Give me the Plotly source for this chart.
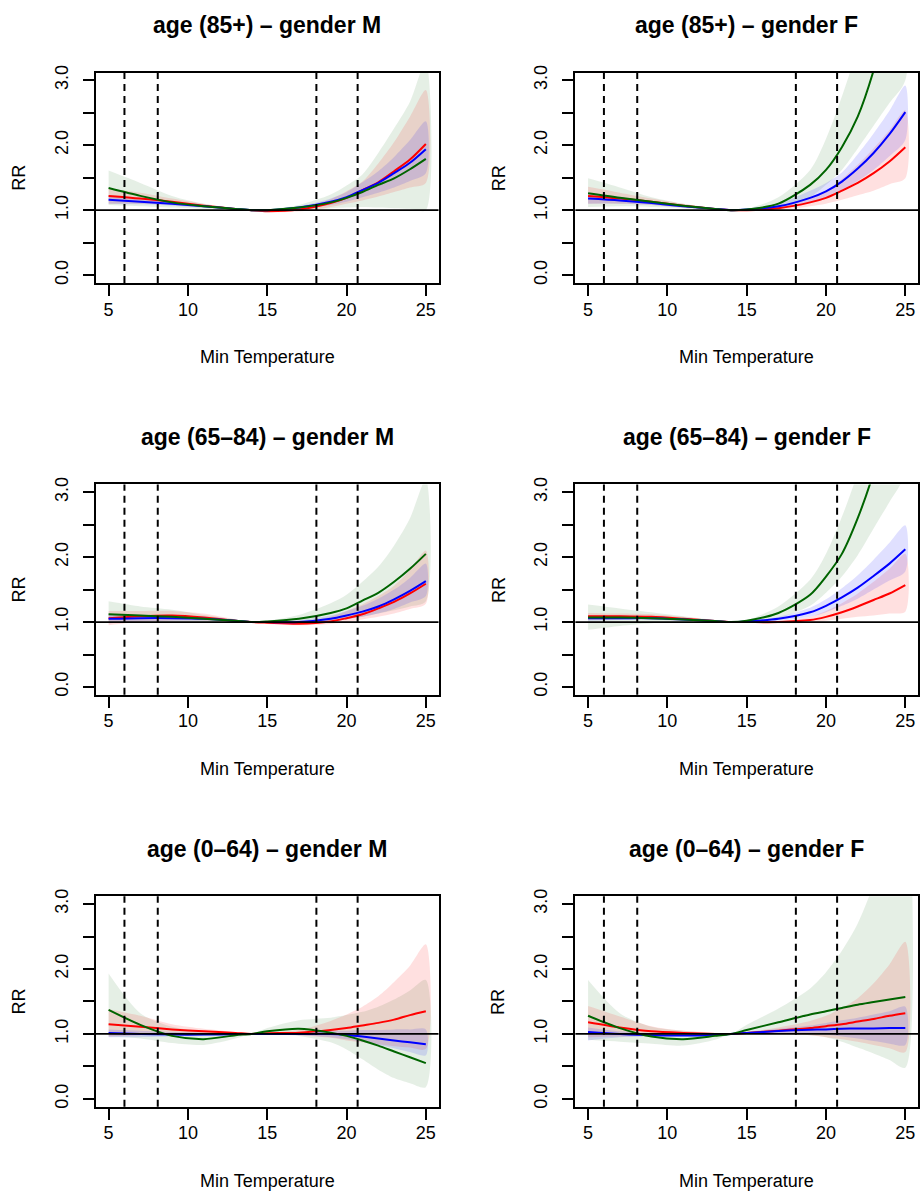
import plotly.graph_objects as go

# ---------------- data ----------------
temps = [5, 7, 9, 11, 13, 14, 15, 17, 19, 20, 21, 22, 23, 24, 25]
cut_points = [6.0, 8.1, 18.1, 20.7]
y_ticks = [0, 0.5, 1, 1.5, 2, 2.5, 3]
y_tick_text = ["0.0", "", "1.0", "", "2.0", "", "3.0"]
x_ticks = [5, 10, 15, 20, 25]

titles = ["age (85+) \u2013 gender M", "age (85+) \u2013 gender F",
          "age (65\u201384) \u2013 gender M", "age (65\u201384) \u2013 gender F",
          "age (0\u201364) \u2013 gender M", "age (0\u201364) \u2013 gender F"]

# panel 1: age 85+, M
p1_green = [1.34, 1.22, 1.12, 1.06, 1.02, 1.0, 1.00, 1.04, 1.12, 1.19, 1.28, 1.39, 1.49, 1.63, 1.79]
p1_green_lo = [1.08, 1.06, 1.04, 1.02, 1.00, 1.0, 0.99, 1.00, 1.03, 1.04, 1.05, 1.04, 1.03, 1.02, 1.00]
p1_green_hi = [1.61, 1.42, 1.22, 1.10, 1.03, 1.0, 1.01, 1.08, 1.24, 1.38, 1.55, 1.88, 2.26, 2.67, 3.3]
p1_red = [1.22, 1.18, 1.13, 1.07, 1.02, 1.0, 0.985, 1.01, 1.11, 1.19, 1.31, 1.43, 1.60, 1.78, 2.02]
p1_red_lo = [1.10, 1.10, 1.08, 1.04, 1.01, 1.0, 0.97, 0.98, 1.05, 1.10, 1.15, 1.21, 1.28, 1.35, 1.42]
p1_red_hi = [1.33, 1.27, 1.18, 1.10, 1.03, 1.0, 1.00, 1.04, 1.17, 1.29, 1.44, 1.72, 2.05, 2.44, 2.85]
p1_blue = [1.16, 1.13, 1.10, 1.06, 1.02, 1.0, 1.00, 1.04, 1.13, 1.20, 1.31, 1.42, 1.57, 1.73, 1.94]
p1_blue_lo = [1.10, 1.09, 1.07, 1.04, 1.01, 1.0, 1.00, 1.02, 1.08, 1.13, 1.20, 1.27, 1.35, 1.45, 1.57]
p1_blue_hi = [1.23, 1.18, 1.13, 1.08, 1.03, 1.0, 1.00, 1.06, 1.18, 1.28, 1.43, 1.60, 1.82, 2.08, 2.37]

# panel 2: age 85+, F
p2_green = [1.26, 1.19, 1.13, 1.07, 1.02, 1.0, 1.01, 1.10, 1.39, 1.62, 1.97, 2.44, 3.15, 4.1, 5.3]
p2_green_lo = [1.05, 1.06, 1.05, 1.03, 1.00, 1.0, 0.99, 1.02, 1.20, 1.39, 1.62, 1.95, 2.30, 2.65, 3.00]
p2_green_hi = [1.49, 1.35, 1.20, 1.10, 1.03, 1.0, 1.02, 1.20, 1.62, 2.10, 2.75, 3.5, 4.4, 5.5, 6.8]
p2_red = [1.22, 1.18, 1.13, 1.07, 1.02, 1.0, 1.00, 1.03, 1.12, 1.19, 1.30, 1.42, 1.57, 1.75, 1.97]
p2_red_lo = [1.10, 1.10, 1.08, 1.04, 1.01, 1.0, 0.99, 1.00, 1.06, 1.10, 1.16, 1.23, 1.30, 1.40, 1.49]
p2_red_hi = [1.36, 1.27, 1.18, 1.10, 1.03, 1.0, 1.01, 1.06, 1.20, 1.30, 1.48, 1.70, 1.95, 2.23, 2.54]
p2_blue = [1.18, 1.15, 1.11, 1.06, 1.02, 1.0, 1.01, 1.06, 1.19, 1.29, 1.44, 1.64, 1.88, 2.17, 2.51]
p2_blue_lo = [1.10, 1.10, 1.08, 1.04, 1.01, 1.0, 1.00, 1.03, 1.12, 1.20, 1.30, 1.45, 1.62, 1.83, 2.08]
p2_blue_hi = [1.26, 1.20, 1.14, 1.08, 1.03, 1.0, 1.01, 1.10, 1.30, 1.42, 1.58, 1.86, 2.18, 2.53, 2.92]

# panel 3: age 65-84, M
p3_green = [1.12, 1.10, 1.08, 1.05, 1.02, 1.0, 1.01, 1.05, 1.14, 1.21, 1.33, 1.45, 1.62, 1.82, 2.05]
p3_green_lo = [0.98, 1.00, 1.00, 1.00, 1.00, 1.0, 1.00, 1.00, 1.02, 1.05, 1.08, 1.13, 1.18, 1.24, 1.32]
p3_green_hi = [1.32, 1.24, 1.19, 1.11, 1.04, 1.0, 1.02, 1.11, 1.29, 1.42, 1.62, 1.85, 2.18, 2.60, 3.2]
p3_red = [1.06, 1.09, 1.10, 1.07, 1.02, 1.0, 0.99, 0.975, 1.01, 1.06, 1.12, 1.21, 1.31, 1.44, 1.59]
p3_red_lo = [0.95, 1.00, 1.02, 1.02, 1.00, 1.0, 0.97, 0.95, 0.97, 1.00, 1.04, 1.08, 1.13, 1.20, 1.28]
p3_red_hi = [1.17, 1.17, 1.17, 1.13, 1.04, 1.0, 1.01, 1.00, 1.08, 1.17, 1.27, 1.40, 1.56, 1.80, 2.10]
p3_blue = [1.05, 1.06, 1.06, 1.05, 1.02, 1.0, 1.00, 1.00, 1.05, 1.10, 1.16, 1.24, 1.35, 1.48, 1.63]
p3_blue_lo = [0.98, 1.01, 1.02, 1.02, 1.01, 1.0, 0.99, 0.98, 1.00, 1.04, 1.08, 1.13, 1.20, 1.30, 1.40]
p3_blue_hi = [1.12, 1.11, 1.10, 1.08, 1.03, 1.0, 1.01, 1.03, 1.10, 1.17, 1.25, 1.36, 1.50, 1.68, 1.90]

# panel 4: age 65-84, F
p4_green = [1.07, 1.07, 1.06, 1.04, 1.015, 1.0, 1.02, 1.14, 1.42, 1.70, 2.05, 2.60, 3.30, 4.2, 5.3]
p4_green_lo = [0.88, 0.94, 0.98, 1.00, 1.00, 1.0, 1.01, 1.06, 1.25, 1.45, 1.70, 2.03, 2.44, 2.85, 3.3]
p4_green_hi = [1.27, 1.21, 1.15, 1.09, 1.03, 1.0, 1.03, 1.24, 1.65, 2.05, 2.62, 3.3, 4.2, 5.2, 6.4]
p4_red = [1.09, 1.09, 1.08, 1.05, 1.015, 1.0, 1.00, 1.00, 1.03, 1.08, 1.15, 1.24, 1.34, 1.44, 1.57]
p4_red_lo = [1.03, 1.04, 1.04, 1.02, 1.00, 1.0, 0.99, 0.98, 0.99, 1.02, 1.05, 1.08, 1.10, 1.13, 1.16]
p4_red_hi = [1.14, 1.13, 1.12, 1.08, 1.02, 1.0, 1.00, 1.01, 1.08, 1.17, 1.29, 1.44, 1.62, 1.82, 2.05]
p4_blue = [1.06, 1.06, 1.06, 1.04, 1.015, 1.0, 1.01, 1.05, 1.15, 1.25, 1.38, 1.53, 1.71, 1.90, 2.12]
p4_blue_lo = [1.02, 1.03, 1.03, 1.02, 1.01, 1.0, 1.00, 1.02, 1.08, 1.15, 1.25, 1.36, 1.50, 1.64, 1.78]
p4_blue_hi = [1.10, 1.10, 1.09, 1.06, 1.02, 1.0, 1.01, 1.08, 1.22, 1.35, 1.52, 1.72, 1.96, 2.22, 2.49]

# panel 5: age 0-64, M
p5_green = [1.37, 1.14, 0.97, 0.92, 0.98, 1.0, 1.04, 1.08, 1.02, 0.97, 0.90, 0.82, 0.73, 0.64, 0.55]
p5_green_lo = [0.96, 0.93, 0.86, 0.83, 0.93, 1.0, 1.00, 0.97, 0.87, 0.76, 0.61, 0.45, 0.32, 0.24, 0.18]
p5_green_hi = [1.93, 1.32, 1.11, 1.04, 1.01, 1.0, 1.09, 1.21, 1.25, 1.29, 1.34, 1.42, 1.53, 1.67, 1.83]
p5_red = [1.15, 1.11, 1.07, 1.04, 1.015, 1.0, 1.01, 1.02, 1.06, 1.09, 1.13, 1.17, 1.22, 1.29, 1.35]
p5_red_lo = [0.96, 0.98, 0.99, 1.00, 1.00, 1.0, 1.00, 0.98, 0.94, 0.90, 0.87, 0.84, 0.81, 0.79, 0.77]
p5_red_hi = [1.38, 1.28, 1.15, 1.08, 1.03, 1.0, 1.02, 1.06, 1.20, 1.30, 1.42, 1.58, 1.80, 2.05, 2.38]
p5_blue = [1.015, 1.00, 0.99, 0.99, 0.995, 1.0, 1.00, 1.00, 1.00, 0.985, 0.96, 0.93, 0.90, 0.87, 0.84]
p5_blue_lo = [0.95, 0.95, 0.96, 0.97, 0.99, 1.0, 0.99, 0.98, 0.95, 0.92, 0.88, 0.83, 0.78, 0.72, 0.67]
p5_blue_hi = [1.07, 1.05, 1.03, 1.02, 1.01, 1.0, 1.01, 1.02, 1.05, 1.05, 1.06, 1.06, 1.07, 1.07, 1.07]

# panel 6: age 0-64, F
p6_green = [1.28, 1.09, 0.96, 0.92, 0.97, 1.0, 1.06, 1.18, 1.30, 1.35, 1.40, 1.45, 1.49, 1.53, 1.57]
p6_green_lo = [0.91, 0.88, 0.85, 0.82, 0.91, 1.0, 1.00, 1.00, 0.98, 0.95, 0.88, 0.79, 0.70, 0.60, 0.48]
p6_green_hi = [1.83, 1.32, 1.11, 1.05, 1.01, 1.0, 1.14, 1.39, 1.70, 1.95, 2.28, 2.70, 3.3, 4.0, 5.0]
p6_red = [1.18, 1.10, 1.04, 1.015, 1.00, 1.0, 1.015, 1.05, 1.09, 1.12, 1.15, 1.19, 1.23, 1.28, 1.32]
p6_red_lo = [0.95, 0.96, 0.97, 0.98, 0.99, 1.0, 1.00, 1.00, 0.98, 0.95, 0.92, 0.88, 0.83, 0.78, 0.72]
p6_red_hi = [1.43, 1.27, 1.12, 1.05, 1.02, 1.0, 1.03, 1.10, 1.20, 1.28, 1.40, 1.55, 1.78, 2.07, 2.42]
p6_blue = [1.03, 1.00, 0.98, 0.975, 0.985, 1.0, 1.015, 1.045, 1.065, 1.07, 1.08, 1.085, 1.085, 1.09, 1.09]
p6_blue_lo = [0.90, 0.95, 0.96, 0.96, 0.97, 1.0, 1.00, 1.01, 1.01, 0.99, 0.96, 0.93, 0.89, 0.85, 0.83]
p6_blue_hi = [1.10, 1.04, 1.01, 1.00, 1.00, 1.0, 1.03, 1.08, 1.13, 1.17, 1.21, 1.25, 1.30, 1.35, 1.42]

panels = [
    dict(green=(p1_green, p1_green_lo, p1_green_hi), red=(p1_red, p1_red_lo, p1_red_hi), blue=(p1_blue, p1_blue_lo, p1_blue_hi)),
    dict(green=(p2_green, p2_green_lo, p2_green_hi), red=(p2_red, p2_red_lo, p2_red_hi), blue=(p2_blue, p2_blue_lo, p2_blue_hi)),
    dict(green=(p3_green, p3_green_lo, p3_green_hi), red=(p3_red, p3_red_lo, p3_red_hi), blue=(p3_blue, p3_blue_lo, p3_blue_hi)),
    dict(green=(p4_green, p4_green_lo, p4_green_hi), red=(p4_red, p4_red_lo, p4_red_hi), blue=(p4_blue, p4_blue_lo, p4_blue_hi)),
    dict(green=(p5_green, p5_green_lo, p5_green_hi), red=(p5_red, p5_red_lo, p5_red_hi), blue=(p5_blue, p5_blue_lo, p5_blue_hi)),
    dict(green=(p6_green, p6_green_lo, p6_green_hi), red=(p6_red, p6_red_lo, p6_red_hi), blue=(p6_blue, p6_blue_lo, p6_blue_hi)),
]

# ---------------- styling ----------------
W, H = 920, 1196
FONT = "Liberation Sans, Arial, Helvetica, sans-serif"
line_colors = {"green": "#006400", "red": "#ff0000", "blue": "#0000ff"}
fill_colors = {"green": "rgba(0,100,0,0.10)", "red": "rgba(255,0,0,0.12)", "blue": "rgba(0,0,255,0.12)"}

col_px = [(96, 439), (576, 919)]
row_px = [(66, 278), (481, 693), (896, 1108)]

fig = go.Figure()
layout = dict(
    width=W, height=H, margin=dict(l=0, r=0, t=0, b=0),
    paper_bgcolor="white", plot_bgcolor="white", showlegend=False,
    font=dict(family=FONT, size=18, color="black"),
)
shapes = []
annotations = []

for i, p in enumerate(panels):
    r, c = divmod(i, 2)
    xa = "x" if i == 0 else f"x{i+1}"
    ya = "y" if i == 0 else f"y{i+1}"
    xk = "xaxis" if i == 0 else f"xaxis{i+1}"
    yk = "yaxis" if i == 0 else f"yaxis{i+1}"
    x0, x1 = col_px[c]
    y0, y1 = row_px[r]
    dom_x = [x0 / W, x1 / W]
    dom_y = [1 - y1 / H, 1 - y0 / H]

    for key in ["green", "red", "blue"]:
        est, lo, hi = p[key]
        fig.add_trace(go.Scatter(
            x=temps + temps[::-1], y=hi + lo[::-1], fill="toself",
            fillcolor=fill_colors[key], line=dict(width=0, shape="spline", smoothing=0.8),
            mode="lines", hoverinfo="skip", xaxis=xa, yaxis=ya))
    for key in ["red", "blue", "green"]:
        est, lo, hi = p[key]
        fig.add_trace(go.Scatter(
            x=temps, y=est, mode="lines",
            line=dict(color=line_colors[key], width=2, shape="spline", smoothing=0.8),
            xaxis=xa, yaxis=ya))

    layout[xk] = dict(
        domain=dom_x, anchor=ya, range=[4.2, 25.8], tickmode="array", tickvals=x_ticks,
        ticks="outside", ticklen=11, tickwidth=1.5, tickcolor="black",
        showline=True, mirror=True, linecolor="black", linewidth=2,
        showgrid=False, zeroline=False, tickfont=dict(size=18), ticklabelstandoff=-2)
    layout[yk] = dict(
        domain=dom_y, anchor=xa, range=[-0.12, 3.12], tickmode="array",
        tickvals=y_ticks, ticktext=y_tick_text, tickangle=-90,
        ticks="outside", ticklen=11, tickwidth=1.5, tickcolor="black",
        showline=True, mirror=True, linecolor="black", linewidth=2,
        showgrid=False, zeroline=False, tickfont=dict(size=18), ticklabelstandoff=8)

    # reference line RR = 1
    shapes.append(dict(type="line", xref=f"{xa} domain", yref=ya, x0=0, x1=1, y0=1, y1=1,
                       line=dict(color="black", width=1.8), layer="above"))
    for cp in cut_points:
        shapes.append(dict(type="line", xref=xa, yref=f"{ya} domain", x0=cp, x1=cp, y0=0, y1=1,
                           line=dict(color="black", width=2, dash="7px,5px"), layer="above"))

    cx = (x0 + x1) / 2 / W
    annotations.append(dict(text=f"<b>{titles[i]}</b>", xref="paper", yref="paper",
                            x=cx, y=1 - (y0 - 48) / H, xanchor="center", yanchor="middle",
                            showarrow=False, font=dict(size=23)))
    annotations.append(dict(text="Min Temperature", xref="paper", yref="paper",
                            x=cx, y=1 - (y1 + 75) / H, xanchor="center", yanchor="middle",
                            showarrow=False, font=dict(size=18)))
    annotations.append(dict(text="RR", xref="paper", yref="paper",
                            x=(x0 - 77) / W, y=1 - (y0 + y1) / 2 / H, xanchor="center", yanchor="middle",
                            textangle=-90, showarrow=False, font=dict(size=18)))

layout["shapes"] = shapes
layout["annotations"] = annotations
fig.update_layout(**layout)
fig.write_html("out.html")
